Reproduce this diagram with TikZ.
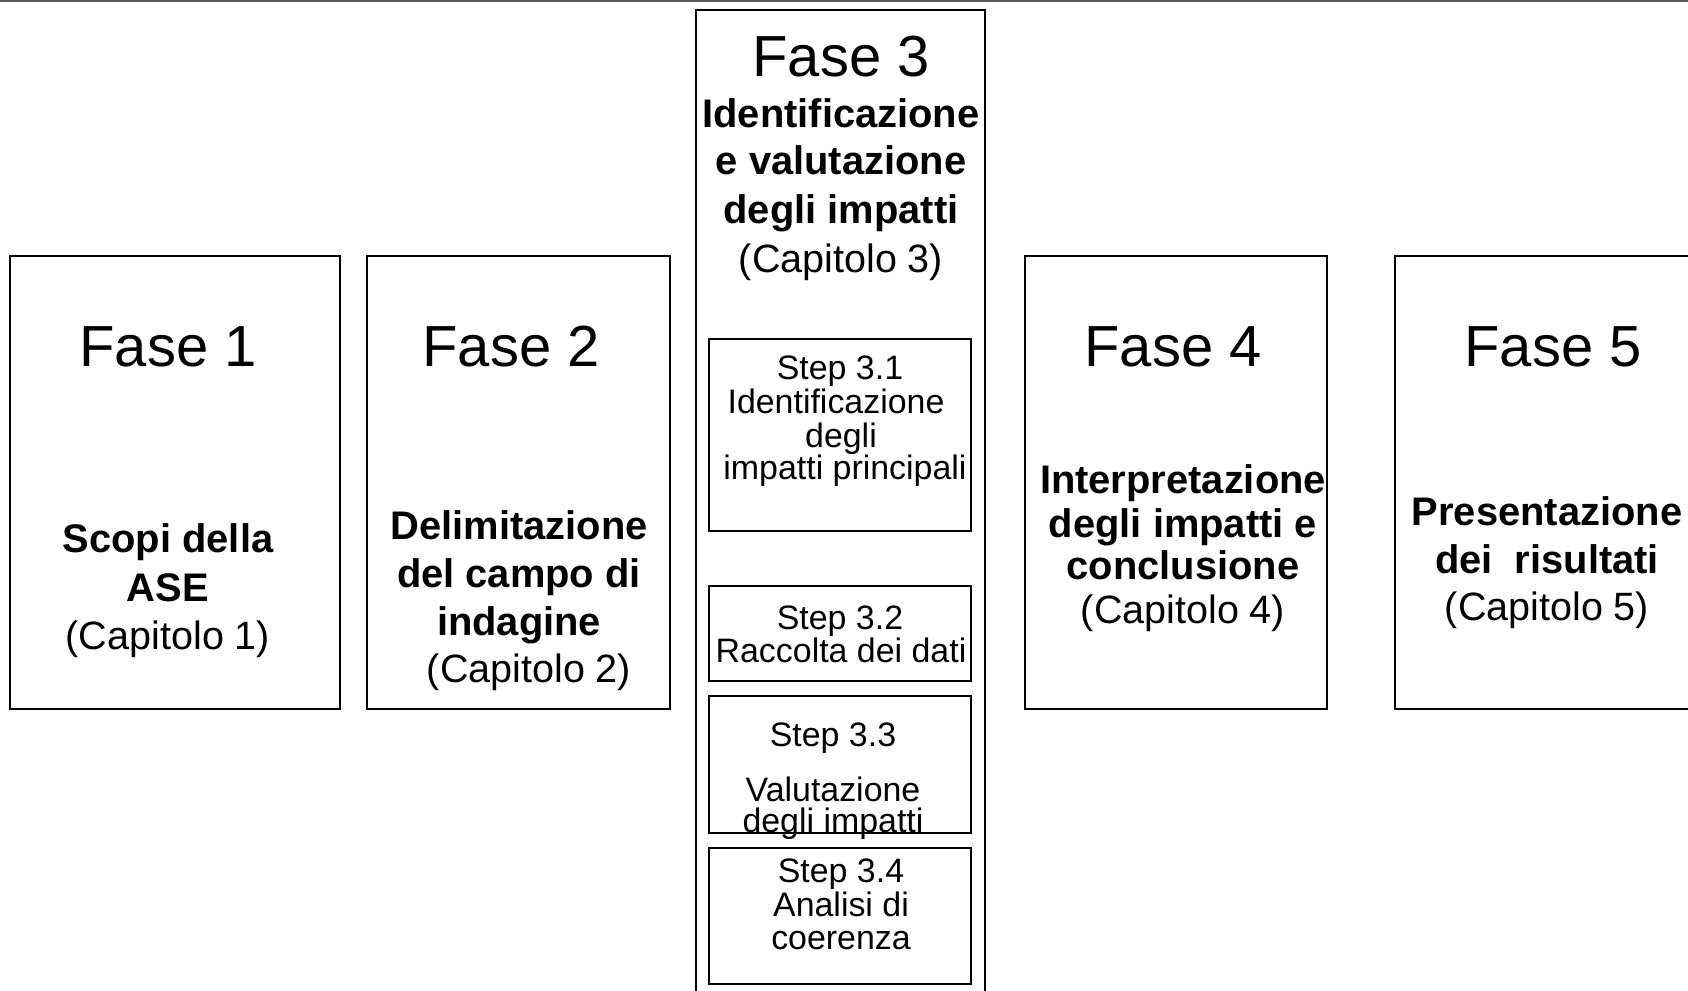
\documentclass[tikz,border=0pt]{standalone}
\usepackage{fontspec}
\setmainfont{Liberation Sans}
\begin{document}
\begin{tikzpicture}[x=0.02cm,y=-0.02cm,
  frame/.style={draw=black,line width=1.45pt},
  stepframe/.style={draw=black,line width=1.0pt},
  ttl/.style={anchor=base,inner sep=0pt,font=\fontsize{33}{38}\selectfont},
  hd/.style={anchor=base,inner sep=0pt,font=\fontsize{22.7}{27}\selectfont\bfseries},
  ch/.style={anchor=base,inner sep=0pt,font=\fontsize{22.5}{27}\selectfont},
  st/.style={anchor=base,inner sep=0pt,font=\fontsize{19.3}{22}\selectfont}]
\useasboundingbox (0,0) rectangle (1688,991);
\fill[white] (0,0) rectangle (1688,991);
% rule along the top edge
\coordinate (ruleL) at (0,1);
\coordinate (ruleR) at (1688,1);
\draw[black!65, line width=1.2pt] (ruleL) -- (ruleR);

% phase frames
\draw[frame] (10,256) rectangle (340,709);
\draw[frame] (367,256) rectangle (670,709);
\draw[frame] (696,10) rectangle (985,1005);
\draw[frame] (1025,256) rectangle (1327,709);
\draw[frame] (1395,256) rectangle (1710,709);

% step frames inside phase 3
\draw[stepframe] (709,339) rectangle (971,531);
\draw[stepframe] (709,586) rectangle (971,681);
\draw[stepframe] (709,696) rectangle (971,833);
\draw[stepframe] (709,848) rectangle (971,984);

% Fase 1
\node[ttl] (f1title) at (168,366) {Fase 1};
\node[hd]  (f1a) at (168,552) {Scopi della};
\node[hd]  (f1b) at (168,601) {ASE};
\node[ch]  (f1c) at (168,649) {(Capitolo 1)};

% Fase 2
\node[ttl] (f2title) at (511,366) {Fase 2};
\node[hd]  (f2a) at (519,539) {Delimitazione};
\node[hd]  (f2b) at (519,587) {del campo di};
\node[hd]  (f2c) at (519,635) {indagine};
\node[ch]  (f2d) at (529,682) {(Capitolo 2)};

% Fase 3
\node[ttl] (f3title) at (841,76) {Fase 3};
\node[hd]  (f3a) at (841,127) {Identificazione};
\node[hd]  (f3b) at (841,174) {e valutazione};
\node[hd]  (f3c) at (841,223) {degli impatti};
\node[ch]  (f3d) at (841,272) {(Capitolo 3)};

% Step 3.1
\node[st] (s1a) at (840,379) {Step 3.1};
\node[st] (s1b) at (836,413) {Identificazione};
\node[st] (s1c) at (841,447) {degli};
\node[st] (s1d) at (845,479) {impatti principali};

% Step 3.2
\node[st] (s2a) at (840,629) {Step 3.2};
\node[st] (s2b) at (841,662) {Raccolta dei dati};

% Step 3.3
\node[st] (s3a) at (833,746) {Step 3.3};
\node[st] (s3b) at (833,801) {Valutazione};
\node[st] (s3c) at (833,832) {degli impatti};

% Step 3.4
\node[st] (s4a) at (841,882) {Step 3.4};
\node[st] (s4b) at (841,916) {Analisi di};
\node[st] (s4c) at (841,949) {coerenza};

% Fase 4
\node[ttl] (f4title) at (1173,366) {Fase 4};
\node[hd]  (f4a) at (1183,493) {Interpretazione};
\node[hd]  (f4b) at (1183,537) {degli impatti e};
\node[hd]  (f4c) at (1183,579) {conclusione};
\node[ch]  (f4d) at (1183,623) {(Capitolo 4)};

% Fase 5
\node[ttl] (f5title) at (1553,366) {Fase 5};
\node[hd]  (f5a) at (1547,525) {Presentazione};
\node[hd]  (f5b) at (1547,573) {dei\ \ risultati};
\node[ch]  (f5c) at (1547,620) {(Capitolo 5)};
\end{tikzpicture}
\end{document}
